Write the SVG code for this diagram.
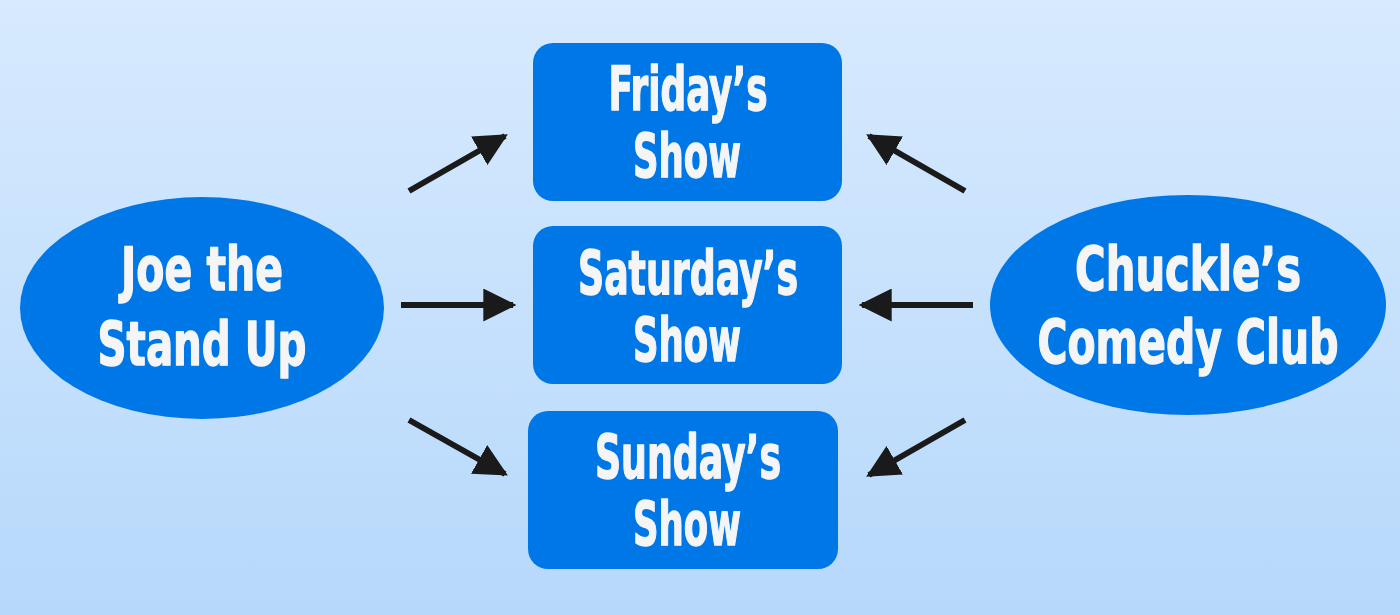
<svg xmlns="http://www.w3.org/2000/svg" width="1400" height="615" viewBox="0 0 1400 615">
<defs>
<linearGradient id="bg" x1="0" y1="0" x2="0" y2="1">
<stop offset="0" stop-color="#d7eafe"/>
<stop offset="1" stop-color="#b6d8fb"/>
</linearGradient>
<marker id="ah" viewBox="0 0 10 10" refX="9" refY="5" markerWidth="5.5" markerHeight="5.5" markerUnits="strokeWidth" orient="auto">
<path d="M0,0 L10,5 L0,10 z" fill="#1a1a1a"/>
</marker>
<style>
.node{fill:#0077e6}
.lbl{fill:#f5f5f5;stroke:#f5f5f5;stroke-width:1.4;stroke-linejoin:round;font-family:"Liberation Sans Narrow","DejaVu Sans Condensed","Liberation Sans",sans-serif;font-weight:bold;font-size:61px;text-anchor:middle}
.arr{stroke:#1a1a1a;stroke-width:6;fill:none;marker-end:url(#ah)}
</style>
</defs>
<rect width="1400" height="615" fill="url(#bg)"/>
<g id="connectors">
<line class="arr" x1="409" y1="191" x2="505" y2="136"/>
<line class="arr" x1="401" y1="305" x2="513" y2="305"/>
<line class="arr" x1="409" y1="420" x2="505" y2="474"/>
<line class="arr" x1="965" y1="191" x2="869" y2="136"/>
<line class="arr" x1="973" y1="305" x2="862" y2="305"/>
<line class="arr" x1="965" y1="420" x2="869" y2="475"/>
</g>
<g id="joe">
<ellipse class="node" cx="202" cy="308" rx="182" ry="111"/>
<text class="lbl" x="202" y="290" textLength="162" lengthAdjust="spacingAndGlyphs">Joe the</text>
<text class="lbl" x="202" y="365" textLength="209" lengthAdjust="spacingAndGlyphs">Stand Up</text>
</g>
<g id="chuckles">
<ellipse class="node" cx="1188" cy="305" rx="198" ry="110"/>
<text class="lbl" x="1188" y="290" textLength="226" lengthAdjust="spacingAndGlyphs">Chuckle’s</text>
<text class="lbl" x="1188" y="363" textLength="301" lengthAdjust="spacingAndGlyphs">Comedy Club</text>
</g>
<g id="friday">
<rect class="node" x="533" y="43" width="309" height="158" rx="20"/>
<text class="lbl" x="688" y="110" textLength="159" lengthAdjust="spacingAndGlyphs">Friday’s</text>
<text class="lbl" x="687" y="177" textLength="108" lengthAdjust="spacingAndGlyphs">Show</text>
</g>
<g id="saturday">
<rect class="node" x="533" y="226" width="309" height="158" rx="20"/>
<text class="lbl" x="688" y="294" textLength="220" lengthAdjust="spacingAndGlyphs">Saturday’s</text>
<text class="lbl" x="687" y="361" textLength="108" lengthAdjust="spacingAndGlyphs">Show</text>
</g>
<g id="sunday">
<rect class="node" x="528" y="411" width="310" height="158" rx="20"/>
<text class="lbl" x="688" y="478" textLength="186" lengthAdjust="spacingAndGlyphs">Sunday’s</text>
<text class="lbl" x="687" y="545" textLength="108" lengthAdjust="spacingAndGlyphs">Show</text>
</g>
</svg>
